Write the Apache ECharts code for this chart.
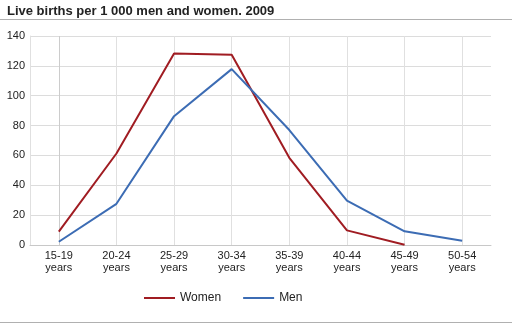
<!DOCTYPE html>
<html><head><meta charset="utf-8">
<script src="https://cdn.jsdelivr.net/npm/echarts@6/dist/echarts.min.js"></script>
<style>html,body{margin:0;padding:0;background:#fff}#c{width:512px;height:325px}</style>
</head><body><div id="c"></div>
<script>
const categories = ['15-19\nyears','20-24\nyears','25-29\nyears','30-34\nyears','35-39\nyears','40-44\nyears','45-49\nyears','50-54\nyears'];
const women = [9, 61.3, 128.3, 127.4, 58.4, 9.8, 0.2, null];
const men = [2.2, 27.6, 86.3, 117.8, 77, 29.8, 9.2, 2.9];
const yTicks = [0, 140, 20];

const chart = echarts.init(document.getElementById('c'), null, {renderer:'canvas'});
chart.setOption({
  animation:false,
  backgroundColor:'#fff',
  textStyle:{fontFamily:'Liberation Sans, Arial, sans-serif'},
  title:{text:'Live births per 1 000 men and women. 2009', left:2, top:0,
    textStyle:{fontSize:13, fontWeight:'bold', color:'#222', fontFamily:'Liberation Sans, Arial, sans-serif'}},
  graphic:[
    {type:'line', shape:{x1:0,y1:19.5,x2:512,y2:19.5}, style:{stroke:'#b0b0b0', lineWidth:1}},
    {type:'line', shape:{x1:0,y1:322.5,x2:512,y2:322.5}, style:{stroke:'#b0b0b0', lineWidth:1}}
  ],
  grid:{left:30, right:21, top:36, bottom:80, containLabel:false},
  legend:{bottom:16, left:139, itemWidth:31, itemHeight:2, itemGap:22,
    icon:'rect',
    textStyle:{fontSize:12, color:'#222'},
    data:['Women','Men']},
  xAxis:{type:'category', data:categories, boundaryGap:true,
    axisLine:{show:true, lineStyle:{color:'#c8c8c8'}},
    axisTick:{show:false, alignWithLabel:true},
    splitLine:{show:true, alignWithLabel:true, lineStyle:{color:['#cccccc','#e0e0e0','#e0e0e0','#e0e0e0','#e0e0e0','#e0e0e0','#e0e0e0','#e0e0e0','#e0e0e0']}},
    axisLabel:{fontSize:11, color:'#222', lineHeight:12, margin:5}},
  yAxis:{type:'value', min:yTicks[0], max:yTicks[1], interval:yTicks[2],
    axisLine:{show:true, lineStyle:{color:'#e0e0e0'}},
    axisTick:{show:false},
    splitLine:{lineStyle:{color:'#dcdcdc'}},
    axisLabel:{fontSize:11, color:'#222', margin:5}},
  series:[
    {name:'Women', type:'line', data:women, symbol:'none', color:'#a01c22',
      lineStyle:{width:2, color:'#a01c22'}},
    {name:'Men', type:'line', data:men, symbol:'none', color:'#3c6cb4',
      lineStyle:{width:2, color:'#3c6cb4'}}
  ]
});
</script></body></html>
